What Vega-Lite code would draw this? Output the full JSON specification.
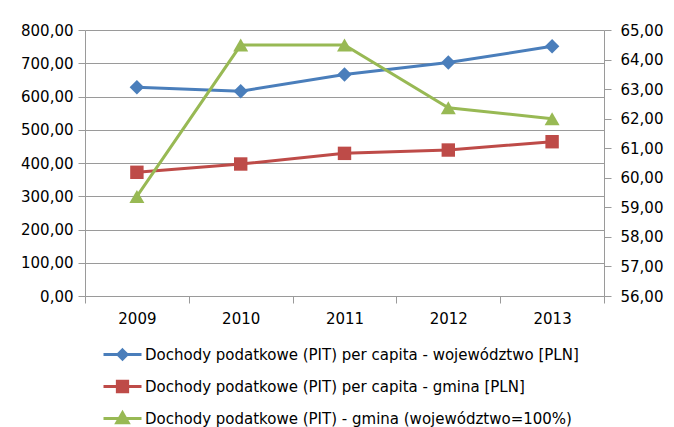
{
  "$schema": "https://vega.github.io/schema/vega-lite/v6.json",
  "width": 519,
  "height": 266,
  "padding": {"left": 20, "top": 23, "right": 5, "bottom": 5},
  "config": {
    "locale": {"number": {"decimal": ",", "thousands": " ", "grouping": [3], "currency": ["", " zł"]}},
    "view": {"stroke": null},
    "font": "DejaVu Sans",
    "axis": {"labelFont": "DejaVu Sans", "labelFontSize": 15, "labelColor": "#000", "domainColor": "#9a9a9a", "tickColor": "#9a9a9a", "gridColor": "#9a9a9a", "tickSize": 7, "labelPadding": 5, "title": null, "labelOverlap": false}
  },
  "data": {"values": [
    {"year": "2009", "series": "Dochody podatkowe (PIT) per capita - województwo [PLN]", "value": 628},
    {"year": "2010", "series": "Dochody podatkowe (PIT) per capita - województwo [PLN]", "value": 616},
    {"year": "2011", "series": "Dochody podatkowe (PIT) per capita - województwo [PLN]", "value": 666},
    {"year": "2012", "series": "Dochody podatkowe (PIT) per capita - województwo [PLN]", "value": 702},
    {"year": "2013", "series": "Dochody podatkowe (PIT) per capita - województwo [PLN]", "value": 751},
    {"year": "2009", "series": "Dochody podatkowe (PIT) per capita - gmina [PLN]", "value": 372},
    {"year": "2010", "series": "Dochody podatkowe (PIT) per capita - gmina [PLN]", "value": 397},
    {"year": "2011", "series": "Dochody podatkowe (PIT) per capita - gmina [PLN]", "value": 429},
    {"year": "2012", "series": "Dochody podatkowe (PIT) per capita - gmina [PLN]", "value": 439},
    {"year": "2013", "series": "Dochody podatkowe (PIT) per capita - gmina [PLN]", "value": 464},
    {"year": "2009", "series": "Dochody podatkowe (PIT) - gmina (województwo=100%)", "value": 59.37},
    {"year": "2010", "series": "Dochody podatkowe (PIT) - gmina (województwo=100%)", "value": 64.49},
    {"year": "2011", "series": "Dochody podatkowe (PIT) - gmina (województwo=100%)", "value": 64.49},
    {"year": "2012", "series": "Dochody podatkowe (PIT) - gmina (województwo=100%)", "value": 62.37},
    {"year": "2013", "series": "Dochody podatkowe (PIT) - gmina (województwo=100%)", "value": 62.0}
  ]},
  "encoding": {
    "x": {"field": "year", "type": "ordinal", "scale": {"paddingInner": 0, "paddingOuter": 0},
      "axis": {"labelAngle": 0, "tickBand": "extent", "grid": false, "labelPadding": 8}}
  },
  "layer": [
    {
      "encoding": {
        "y": {"field": "value", "type": "quantitative", "scale": {"domain": [0, 800], "nice": false},
          "axis": {"orient": "left", "format": ".2f", "values": [0,100,200,300,400,500,600,700,800], "grid": true}}
      },
      "layer": [
        {
          "transform": [{"filter": "datum.series == 'Dochody podatkowe (PIT) per capita - województwo [PLN]'"}],
          "mark": {"type": "line", "strokeWidth": 3, "color": "#4A7EBB"},
          "encoding": {}
        },
        {
          "transform": [{"filter": "datum.series == 'Dochody podatkowe (PIT) per capita - gmina [PLN]'"}],
          "mark": {"type": "line", "strokeWidth": 3, "color": "#BE4B48"},
          "encoding": {}
        },
        {
          "transform": [{"filter": "datum.series == 'Dochody podatkowe (PIT) per capita - województwo [PLN]'"}],
          "mark": {"type": "point", "shape": "diamond", "filled": true, "opacity": 1, "size": 210, "color": "#4A7EBB"},
          "encoding": {}
        },
        {
          "transform": [{"filter": "datum.series == 'Dochody podatkowe (PIT) per capita - gmina [PLN]'"}],
          "mark": {"type": "point", "shape": "square", "filled": true, "opacity": 1, "size": 180, "color": "#BE4B48"},
          "encoding": {}
        },
        {
          "transform": [{"filter": "datum.value < -1"}],
          "mark": {"type": "point", "size": 1444, "strokeWidth": 3, "opacity": 1},
          "encoding": {
            "fill": {"field": "series", "type": "nominal", "scale": {"domain": ["Dochody podatkowe (PIT) per capita - województwo [PLN]", "Dochody podatkowe (PIT) per capita - gmina [PLN]", "Dochody podatkowe (PIT) - gmina (województwo=100%)"], "range": ["#4A7EBB", "#BE4B48", "#98B954"]},
              "legend": {"orient": "none", "legendX": 17, "legendY": 304, "title": null, "direction": "vertical", "symbolOpacity": 1, "symbolSize": 1444, "symbolStrokeWidth": 3, "labelFont": "DejaVu Sans", "labelFontSize": 15, "labelColor": "#000", "rowPadding": -8.5, "labelOffset": 2, "labelLimit": 600}},
            "stroke": {"field": "series", "type": "nominal", "scale": {"domain": ["Dochody podatkowe (PIT) per capita - województwo [PLN]", "Dochody podatkowe (PIT) per capita - gmina [PLN]", "Dochody podatkowe (PIT) - gmina (województwo=100%)"], "range": ["#4A7EBB", "#BE4B48", "#98B954"]}},
            "shape": {"field": "series", "type": "nominal", "scale": {"domain": ["Dochody podatkowe (PIT) per capita - województwo [PLN]", "Dochody podatkowe (PIT) per capita - gmina [PLN]", "Dochody podatkowe (PIT) - gmina (województwo=100%)"], "range": ["M-1,0L1,0M0,-0.24L0.24,0L0,0.24L-0.24,0Z", "M-1,0L1,0M-0.27,-0.27L0.27,-0.27L0.27,0.27L-0.27,0.27Z", "M-1,0L1,0M0,-0.3L0.3,0.22L-0.3,0.22Z"]}}
          }
        }
      ]
    },
    {
      "transform": [{"filter": "datum.series == 'Dochody podatkowe (PIT) - gmina (województwo=100%)'"}],
      "encoding": {
        "y": {"field": "value", "type": "quantitative", "scale": {"domain": [56, 65], "nice": false, "zero": false},
          "axis": {"orient": "right", "format": ".2f", "values": [56,57,58,59,60,61,62,63,64,65], "grid": false, "labelPadding": 9}}
      },
      "layer": [
        {"mark": {"type": "line", "strokeWidth": 3, "color": "#98B954"}, "encoding": {}},
        {"mark": {"type": "point", "shape": "triangle-up", "filled": true, "opacity": 1, "size": 225, "color": "#98B954"}, "encoding": {}}
      ]
    }
  ],
  "resolve": {"scale": {"y": "independent"}}
}
